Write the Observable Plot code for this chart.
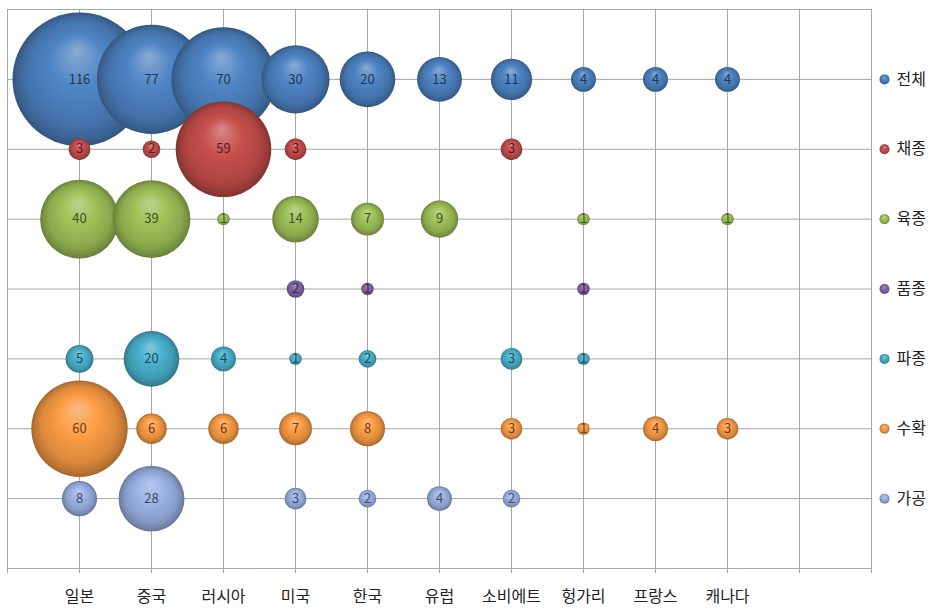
<!DOCTYPE html>
<html>
<head>
<meta charset="utf-8">
<script src="https://cdn.jsdelivr.net/npm/d3@7"></script>
<script src="https://cdn.jsdelivr.net/npm/@observablehq/plot@0.6"></script>
<style>
  html, body { margin: 0; padding: 0; background: #ffffff; }
  #chart { width: 935px; height: 609px; }
</style>
</head>
<body>
<div id="chart"></div>
<script>
// Categories (x axis) and series (rows)
const categories = ["일본", "중국", "러시아", "미국", "한국", "유럽", "소비에트", "헝가리", "프랑스", "캐나다"];
const seriesNames = ["전체", "채종", "육종", "품종", "파종", "수확", "가공"];

// Values per series, aligned with categories (null = no bubble)
const total     = [116, 77, 70, 30, 20, 13, 11, 4, 4, 4];
const seedProd  = [3, 2, 59, 3, null, null, 3, null, null, null];
const breeding  = [40, 39, 1, 14, 7, 9, null, 1, null, 1];
const variety   = [null, null, null, 2, 1, null, null, 1, null, null];
const sowing    = [5, 20, 4, 1, 2, null, 3, 1, null, null];
const harvest   = [60, 6, 6, 7, 8, null, 3, 1, 4, 3];
const processing= [8, 28, null, 3, 2, 4, 2, null, null, null];

const seriesValues = [total, seedProd, breeding, variety, sowing, harvest, processing];
const seriesColors = ["#4A7EBB", "#BE4B48", "#98B954", "#7D60A0", "#46AAC5", "#F19642", "#95ABDB"];

// Build tidy rows
const rows = [];
seriesValues.forEach((vals, si) => {
  vals.forEach((v, ci) => {
    if (v != null) rows.push({si, series: seriesNames[si], cat: ci + 1, row: 7 - si, value: v});
  });
});
const legendRows = seriesNames.map((s, si) => ({si, series: s, row: 7 - si}));

const grid = "#a6a6a6";
const marks = [
  Plot.gridX(d3.range(0, 13), {stroke: grid, strokeOpacity: 1}),
  Plot.gridY(d3.range(0, 9), {stroke: grid, strokeOpacity: 1}),
  Plot.frame({stroke: grid}),
  Plot.axisX(d3.range(0, 13), {
    tickFormat: d => categories[d - 1] ?? "", label: null,
    tickSize: 5, tickPadding: 17, fontSize: 16, stroke: grid, fill: "#222"
  })
];
seriesNames.forEach((s, si) => {
  const data = rows.filter(d => d.si === si);
  marks.push(Plot.dot(data, {x: "cat", y: "row", r: "value", fill: `url(#bub${si})`, stroke: "none", sort: null}));
  marks.push(Plot.text(data, {
    x: "cat", y: "row", text: d => String(d.value),
    fill: d3.color(seriesColors[si]).darker(2.4).formatHex(), fontSize: 13
  }));
  marks.push(Plot.dot([legendRows[si]], {x: () => 12, y: "row", dx: 13, r: 5, fill: `url(#bub${si})`, stroke: "none"}));
  marks.push(Plot.text([legendRows[si]], {x: () => 12, y: "row", dx: 25, text: "series", textAnchor: "start", fontSize: 16, fill: "#222"}));
});

const svg = Plot.plot({
  width: 935,
  height: 609,
  marginLeft: 7,
  marginRight: 64,
  marginTop: 9,
  marginBottom: 41,
  style: {fontFamily: "'Noto Sans CJK KR', 'Noto Sans', sans-serif", background: "#ffffff", overflow: "visible"},
  x: {domain: [0, 12], axis: null, label: null},
  y: {domain: [0, 8], axis: null, label: null},
  r: {type: "sqrt", domain: [0, 116], range: [0, 67]},
  marks
});

// Glossy 3D bubble gradients
const ns = "http://www.w3.org/2000/svg";
const defs = document.createElementNS(ns, "defs");
seriesColors.forEach((c, i) => {
  const g = document.createElementNS(ns, "radialGradient");
  g.setAttribute("id", `bub${i}`);
  g.setAttribute("cx", "50%"); g.setAttribute("cy", "50%"); g.setAttribute("r", "50%");
  g.setAttribute("fx", "48%"); g.setAttribute("fy", "28%");
  const base = d3.color(c);
  const stops = [
    [0, d3.interpolateRgb(c, "#ffffff")(0.35)],
    [0.4, base.brighter(0.15).formatHex()],
    [0.78, base.darker(0.25).formatHex()],
    [0.93, base.darker(0.7).formatHex()],
    [1, base.darker(1.1).formatHex()]
  ];
  stops.forEach(([o, col]) => {
    const s = document.createElementNS(ns, "stop");
    s.setAttribute("offset", o);
    s.setAttribute("stop-color", col);
    g.appendChild(s);
  });
  defs.appendChild(g);
});
svg.insertBefore(defs, svg.firstChild);
document.getElementById("chart").appendChild(svg);
</script>
</body>
</html>
